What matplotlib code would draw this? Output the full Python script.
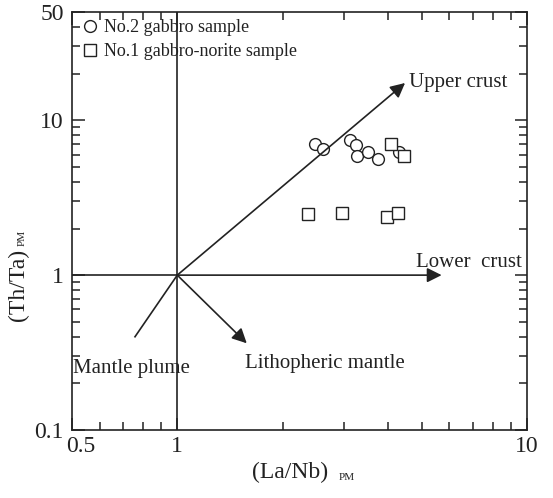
""" (La/Nb)PM - (Th/Ta)PM 判别图 """
import matplotlib
matplotlib.use('Agg')
import matplotlib.pyplot as plt
from matplotlib.ticker import FixedLocator, FixedFormatter, NullFormatter
from matplotlib.transforms import ScaledTranslation

plt.rcParams['font.family'] = ['Liberation Serif', 'DejaVu Serif']

# 样品数据 (原始地幔标准化比值)
gabbro_la_nb = [2.48, 2.61, 3.12, 3.24, 3.26, 3.50, 3.76, 4.31]
gabbro_th_ta = [7.02, 6.49, 7.45, 6.92, 5.87, 6.21, 5.59, 6.21]

norite_la_nb = [4.09, 4.46, 2.36, 2.95, 3.99, 4.29]
norite_th_ta = [7.02, 5.87, 2.47, 2.51, 2.38, 2.53]

# 参考趋势线: 起点都在 (1, 1)
origin = (1, 1)
upper_crust = (4.48, 17.4)
lower_crust = (5.70, 1.0)
litho_mantle = (1.58, 0.363)
mantle_plume = (0.757, 0.40)

x_major = [0.5, 1, 10]
x_minor = [0.6, 0.7, 0.8, 0.9, 2, 3, 4, 5, 6, 7, 8, 9]
y_major = [0.1, 1, 10, 50]
y_minor = [0.2, 0.3, 0.4, 0.5, 0.6, 0.7, 0.8, 0.9,
           2, 3, 4, 5, 6, 7, 8, 9, 20, 30, 40]

ink = '#222222'

fig = plt.figure(figsize=(5.53, 4.98), dpi=100)
ax = fig.add_axes([72 / 553, 1 - 430 / 498, 455 / 553, 418 / 498])
ax.set_xscale('log')
ax.set_yscale('log')
ax.set_xlim(0.5, 10)
ax.set_ylim(0.1, 50)

# 坐标轴十字线
ax.axvline(1, color=ink, lw=1.2)
ax.plot([0.5, origin[0]], [1, 1], color=ink, lw=1.2)
ax.plot([mantle_plume[0], origin[0]], [mantle_plume[1], origin[1]], color=ink, lw=1.2)

arrow = dict(arrowstyle='-|>', mutation_scale=22, lw=1.2, color=ink,
             shrinkA=0, shrinkB=0)
for tip in (upper_crust, lower_crust, litho_mantle):
    ax.annotate('', xy=tip, xytext=origin, arrowprops=arrow)

# 样品点
ax.plot(gabbro_la_nb, gabbro_th_ta, 'o', ms=8.5, mfc='white', mec=ink, mew=1.0,
        label='No.2 gabbro sample')
ax.plot(norite_la_nb, norite_th_ta, 's', ms=8, mfc='white', mec=ink, mew=1.0,
        label='No.1 gabbro-norite sample')

# 标注
ax.text(4.6, 17.4, 'Upper crust', fontsize=15, color=ink, va='center', ha='left')
ax.text(4.82, 1.13, 'Lower  crust', fontsize=15, color=ink, va='baseline', ha='left')
ax.text(0.503, 0.234, 'Mantle plume', fontsize=15, color=ink, va='baseline', ha='left')
ax.text(1.56, 0.251, 'Lithopheric mantle', fontsize=15, color=ink, va='baseline', ha='left')

# 刻度
ax.xaxis.set_major_locator(FixedLocator(x_major))
ax.xaxis.set_minor_locator(FixedLocator(x_minor))
ax.xaxis.set_major_formatter(FixedFormatter(['0.5', '1', '10']))
ax.xaxis.set_minor_formatter(NullFormatter())
ax.yaxis.set_major_locator(FixedLocator(y_major))
ax.yaxis.set_minor_locator(FixedLocator(y_minor))
ax.yaxis.set_major_formatter(FixedFormatter(['0.1', '1', '10', '50']))
ax.yaxis.set_minor_formatter(NullFormatter())
ax.tick_params(which='both', direction='in', top=True, right=True,
               colors=ink, labelsize=17, width=1.1)
ax.tick_params(which='major', length=9, pad=4)
ax.tick_params(which='minor', length=6)
ax.tick_params(axis='y', which='major', pad=6)
for s in ax.spines.values():
    s.set_linewidth(1.2)
    s.set_color(ink)

# 0.5 标签稍向右移，避开 0.1
fig.canvas.draw()
lab = ax.get_xticklabels()[0]
lab.set_transform(lab.get_transform() + ScaledTranslation(9 / 100, 0, fig.dpi_scale_trans))

# 轴标题 (下标 PM 单独绘制)
fig.text(290 / 553, 1 - 472 / 498, '(La/Nb)', fontsize=17, color=ink, ha='center', va='center')
fig.text(347 / 553, 1 - 477 / 498, 'PM', fontsize=8, color=ink, ha='center', va='center')
fig.text(18 / 553, 1 - 285 / 498, '(Th/Ta)', fontsize=17, color=ink, ha='center', va='center',
         rotation=90)
fig.text(22 / 553, 1 - 238 / 498, 'PM', fontsize=8, color=ink, ha='center', va='center',
         rotation=90)

ax.legend(loc='upper left', frameon=False, fontsize=13, handletextpad=0.2,
          borderaxespad=0.1, borderpad=0.3, labelspacing=0.4, handlelength=1.2,
          labelcolor=ink)

fig.savefig('out.png', dpi=100)
